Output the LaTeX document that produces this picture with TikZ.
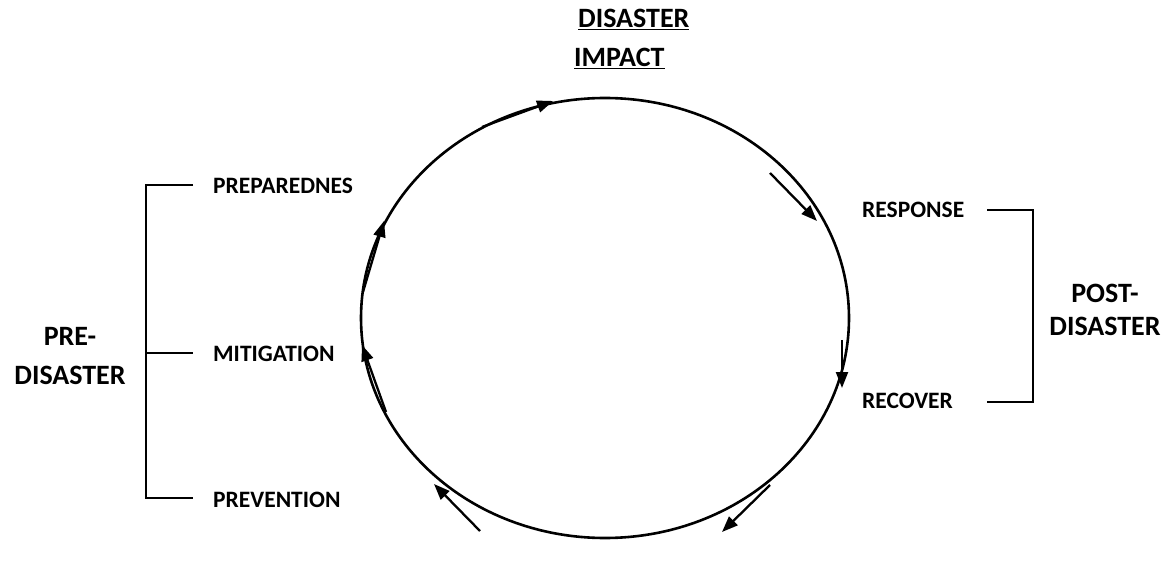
\documentclass[tikz,border=0pt]{standalone}
\usepackage{fontspec}
\setmainfont{Carlito}
\usetikzlibrary{arrows.meta}
\begin{document}
\begin{tikzpicture}[x=1pt,y=-1pt,
  lbl/.style={font=\bfseries\fontsize{23.5}{28}\selectfont, inner sep=0pt, anchor=base west},
  big/.style={font=\bfseries\fontsize{28}{34}\selectfont, inner sep=0pt, anchor=base},
  ttl/.style={font=\bfseries\fontsize{28}{34}\selectfont, inner sep=0pt, anchor=base west},
  cyc/.style={line width=2.6pt},
  arr/.style={line width=2.3pt, -{Triangle[length=16pt,width=12pt]}},
  brk/.style={line width=1.5pt}]
\useasboundingbox (0,0) rectangle (1171,564);
% cycle
\draw[cyc] (605,318) ellipse [x radius=244pt, y radius=220pt];
% arrows
\coordinate (a1s) at (482,127); \coordinate (a1e) at (553,101);
\coordinate (a2s) at (770,173); \coordinate (a2e) at (817,221);
\coordinate (a3s) at (842,340); \coordinate (a3e) at (842,388);
\coordinate (a4s) at (770,485); \coordinate (a4e) at (722,532);
\coordinate (a5s) at (480,531); \coordinate (a5e) at (434,484);
\coordinate (a6s) at (386,412); \coordinate (a6e) at (362,345);
\coordinate (a7s) at (363,292); \coordinate (a7e) at (384,221);
\foreach \i in {1,...,7} \draw[arr] (a\i s) -- (a\i e);
% title
\node[ttl] (t1) at (578,28) {\underline{DISASTER}};
\node[ttl] (t2) at (574,67) {\underline{IMPACT}};
% left labels
\node[lbl] (prep) at (213,194) {PREPAREDNES};
\node[lbl] (mit) at (213,362) {MITIGATION};
\node[lbl] (prev) at (213,507) {PREVENTION};
\node[big] (pre1) at (70,345) {PRE-};
\node[big] (pre2) at (70,384) {DISASTER};
% right labels
\node[lbl] (resp) at (862,218) {RESPONSE};
\node[lbl] (rec) at (862,408) {RECOVER};
\node[big] (post1) at (1105,302) {POST-};
\node[big] (post2) at (1105,335) {DISASTER};
% brackets
\coordinate (lb1) at (146,185);
\coordinate (lb2) at (146,353);
\coordinate (lb3) at (146,498);
\draw[brk] (193,185) -- (lb1) -- (lb3) -- (193,498);
\draw[brk] (lb2) -- (193,353);
\coordinate (rb1) at (1033,210);
\coordinate (rb2) at (1033,402);
\draw[brk] (987,210) -- (rb1) -- (rb2) -- (987,402);
\end{tikzpicture}
\end{document}
